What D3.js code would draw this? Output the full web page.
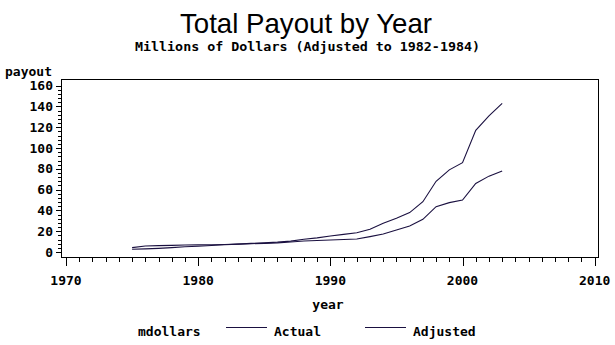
<!DOCTYPE html>
<html>
<head>
<meta charset="utf-8">
<script src="https://cdn.jsdelivr.net/npm/d3@7"></script>
<style>
  html, body { margin: 0; padding: 0; background: #fff; }
  svg { display: block; }
  .mono { font-family: "DejaVu Sans Mono", "Liberation Mono", monospace; font-weight: bold; fill: #000; }
</style>
</head>
<body>
<svg id="chart" width="615" height="345"></svg>
<script>
// Payout data, millions of dollars
const years = [1975, 1976, 1977, 1978, 1979, 1980, 1981, 1982, 1983, 1984,
               1985, 1986, 1987, 1988, 1989, 1990, 1991, 1992, 1993, 1994,
               1995, 1996, 1997, 1998, 1999, 2000, 2001, 2002, 2003];
const actual = [2.6, 3.0, 3.5, 4.2, 5.0, 5.6, 6.3, 7.0, 7.6, 8.3,
                8.8, 9.5, 10.5, 12.2, 13.6, 15.4, 17.0, 18.5, 21.8, 27.6,
                32.4, 37.9, 48.4, 68.0, 79.0, 86.0, 117.0, 131.0, 143.0];
const adjusted = [4.2, 5.8, 6.1, 6.4, 6.7, 6.9, 7.0, 7.2, 7.6, 8.0,
                  8.3, 8.8, 9.6, 10.6, 11.0, 11.5, 12.0, 12.5, 14.8, 17.3,
                  21.2, 25.0, 31.4, 43.6, 47.5, 50.0, 66.0, 73.0, 78.0];
const seriesNames = ["Actual", "Adjusted"];
const yTicks = [0, 20, 40, 60, 80, 100, 120, 140, 160];
const xTicks = [1970, 1980, 1990, 2000, 2010];

const svg = d3.select("#chart");
const ink = "#1a1040";

// Plot frame and scales
const frame = { left: 61, right: 598, top: 79, bottom: 257.5 };
const x = d3.scaleLinear().domain([1970, 2010]).range([66, 594.7]);
const y = d3.scaleLinear().domain([0, 160]).range([252, 85.7]);

svg.append("rect")
  .attr("x", frame.left).attr("y", frame.top)
  .attr("width", frame.right - frame.left)
  .attr("height", frame.bottom - frame.top)
  .attr("fill", "none").attr("stroke", "#000").attr("stroke-width", 1)
  .attr("shape-rendering", "crispEdges");

// Y axis: major ticks every 20, minor every 4
const yAxis = svg.append("g").attr("shape-rendering", "crispEdges");
const yMinor = d3.range(0, 161, 4).filter(v => v % 20 !== 0);
yAxis.selectAll("line.minor").data(yMinor).join("line")
  .attr("x1", frame.left - 3).attr("x2", frame.left)
  .attr("y1", d => Math.round(y(d)) + 0.5).attr("y2", d => Math.round(y(d)) + 0.5)
  .attr("stroke", "#000");
yAxis.selectAll("line.major").data(yTicks).join("line")
  .attr("x1", frame.left - 5).attr("x2", frame.left)
  .attr("y1", d => Math.round(y(d)) + 0.5).attr("y2", d => Math.round(y(d)) + 0.5)
  .attr("stroke", "#000");
yAxis.selectAll("text").data(yTicks).join("text")
  .attr("class", "mono")
  .attr("x", 53).attr("y", d => y(d) + 4.5)
  .attr("text-anchor", "end")
  .attr("font-size", 13)
  .text(d => d);

// X axis: major ticks every decade, minor every year
const xAxis = svg.append("g").attr("shape-rendering", "crispEdges");
const xMinor = d3.range(1970, 2011).filter(v => v % 10 !== 0);
xAxis.selectAll("line.minor").data(xMinor).join("line")
  .attr("x1", d => Math.round(x(d)) + 0.5).attr("x2", d => Math.round(x(d)) + 0.5)
  .attr("y1", frame.bottom).attr("y2", frame.bottom + 4)
  .attr("stroke", "#000");
xAxis.selectAll("line.major").data(xTicks).join("line")
  .attr("x1", d => Math.round(x(d)) + 0.5).attr("x2", d => Math.round(x(d)) + 0.5)
  .attr("y1", frame.bottom).attr("y2", frame.bottom + 8)
  .attr("stroke", "#000");
xAxis.selectAll("text").data(xTicks).join("text")
  .attr("class", "mono")
  .attr("x", d => x(d)).attr("y", 285)
  .attr("text-anchor", "middle")
  .attr("font-size", 13)
  .text(d => d);

// Axis labels
svg.append("text").attr("class", "mono")
  .attr("x", 5).attr("y", 76).attr("font-size", 13).text("payout");
svg.append("text").attr("class", "mono")
  .attr("x", 328).attr("y", 309).attr("text-anchor", "middle")
  .attr("font-size", 13).text("year");

// Titles
svg.append("text")
  .attr("x", 306).attr("y", 33).attr("text-anchor", "middle")
  .attr("font-family", "'Liberation Sans', Arial, sans-serif")
  .attr("font-size", 28).attr("fill", "#000")
  .attr("textLength", 252).attr("lengthAdjust", "spacingAndGlyphs")
  .text("Total Payout by Year");
svg.append("text").attr("class", "mono")
  .attr("x", 307.5).attr("y", 51).attr("text-anchor", "middle")
  .attr("font-size", 13)
  .attr("textLength", 345).attr("lengthAdjust", "spacingAndGlyphs")
  .text("Millions of Dollars (Adjusted to 1982-1984)");

// Series lines
const line = d3.line().x((d, i) => x(years[i])).y(d => y(d));
[actual, adjusted].forEach(vals => {
  svg.append("path")
    .datum(vals)
    .attr("d", line)
    .attr("fill", "none")
    .attr("stroke", ink)
    .attr("stroke-width", 1.1);
});

// Legend
svg.append("text").attr("class", "mono")
  .attr("x", 138).attr("y", 336).attr("font-size", 13).text("mdollars");
const legendX = [226, 365];
seriesNames.forEach((name, i) => {
  svg.append("line")
    .attr("x1", legendX[i]).attr("x2", legendX[i] + 41)
    .attr("y1", 327.5).attr("y2", 327.5)
    .attr("stroke", ink).attr("stroke-width", 1)
    .attr("shape-rendering", "crispEdges");
  svg.append("text").attr("class", "mono")
    .attr("x", legendX[i] + 48).attr("y", 336).attr("font-size", 13)
    .text(name);
});
</script>
</body>
</html>
